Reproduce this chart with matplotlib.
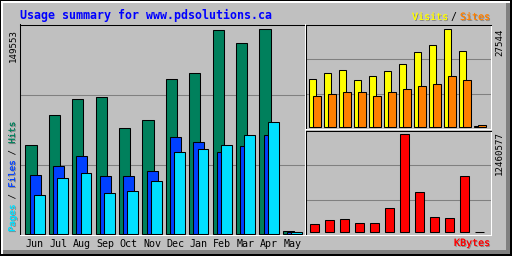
import matplotlib
matplotlib.use("Agg")
import matplotlib.pyplot as plt
import matplotlib.patheffects as pe
from matplotlib.patches import Rectangle
import numpy as np

MONTHS = ["Jun", "Jul", "Aug", "Sep", "Oct", "Nov",
          "Dec", "Jan", "Feb", "Mar", "Apr", "May"]

HITS = [64800, 86700, 98400, 99900, 77200, 83100,
        113000, 117400, 149200, 139300, 149553, 2500]
FILES = [42900, 49500, 56800, 42200, 42200, 45800,
         70900, 67000, 59700, 64100, 72300, 1500]
PAGES = [28300, 40700, 44300, 29700, 31200, 38500,
         59700, 61900, 64800, 72100, 81600, 1200]

VISITS = [13490, 15180, 16020, 13210, 14330, 15740,
          17710, 21080, 23050, 27544, 21360, 300]
SITES = [8710, 9280, 9840, 9840, 8710, 9840,
         10680, 11520, 12090, 14330, 13210, 560]

KBYTES = [1017000, 1526000, 1653000, 1144000, 1144000, 3052000,
          12460577, 5086000, 1907000, 1780000, 7120000, 100000]

TITLE = "Usage summary for www.pdsolutions.ca"

GREY = "#C0C0C0"
DARK = "#808080"
C_HITS = "#00805C"
C_FILES = "#0040FF"
C_PAGES = "#00E0FF"
C_VISITS = "#FFFF00"
C_SITES = "#FF8000"
C_KBYTES = "#FF0000"

W, H = 512, 256
MONO = "DejaVu Sans Mono"
LW = 0.75
ROT_FS = 6.6


def px_axes(fig, x0, y0, x1, y1):
    return fig.add_axes([x0 / W, 1 - y1 / H, (x1 - x0) / W, (y1 - y0) / H])


def style_panel(ax):
    ax.set_facecolor(GREY)
    ax.spines["top"].set_color("black")
    ax.spines["left"].set_color("black")
    ax.spines["bottom"].set_color("white")
    ax.spines["right"].set_color("white")
    for s in ax.spines.values():
        s.set_linewidth(LW)
    ax.set_yticks([])
    ax.tick_params(length=0)
    lo, hi = ax.get_ylim()
    for f in (1 / 3, 2 / 3):
        ax.axhline(lo + f * (hi - lo), color=DARK, lw=LW, zorder=0)


def shadow():
    return [pe.withSimplePatchShadow(offset=(0.7, -0.7),
                                     shadow_rgbFace=DARK, alpha=1),
            pe.Normal()]


fig = plt.figure(figsize=(W / 100, H / 100), dpi=100)
fig.patch.set_facecolor(GREY)

# background frame in pixel coordinates
bg = fig.add_axes([0, 0, 1, 1])
bg.set_xlim(0, W)
bg.set_ylim(H, 0)
bg.axis("off")
bg.add_patch(Rectangle((0, 0), W, H, facecolor="black", lw=0))
bg.add_patch(Rectangle((1, 1), W - 3, H - 3, facecolor="white", lw=0))
bg.add_patch(Rectangle((3, 3), W - 5, H - 5, facecolor=DARK, lw=0))
bg.add_patch(Rectangle((3, 3), W - 9, H - 9, facecolor=GREY, lw=0))

x = np.arange(len(MONTHS))

# left panel: hits / files / pages
ax = px_axes(fig, 20, 24.5, 304.5, 234.5)
hmax = max(HITS)
ax.set_ylim(-0.5 / 204.7 * hmax, 209.5 / 204.7 * hmax)
ax.set_xlim(-0.227, 11.93)
bw = 0.48
ax.bar(x, HITS, width=bw, align="edge", color=C_HITS,
       edgecolor="black", lw=LW, zorder=2)
ax.bar(x + 0.184, FILES, width=bw - 0.01, align="edge", color=C_FILES,
       edgecolor="black", lw=LW, zorder=3)
ax.bar(x + 0.36, PAGES, width=bw - 0.02, align="edge", color=C_PAGES,
       edgecolor="black", lw=LW, zorder=4)
style_panel(ax)
ax.set_xticks(x + 0.41, MONTHS, fontsize=7.2, family=MONO)
ax.tick_params(axis="x", pad=3)

# top right: visits / sites
ax2 = px_axes(fig, 306, 24.5, 490.5, 129)
vmax = max(VISITS)
ax2.set_ylim(-1.7 / 98 * vmax, 102.8 / 98 * vmax)
ax2.set_xlim(-0.22, 12.08)
ax2.bar(x, VISITS, width=0.467, align="edge", color=C_VISITS,
        edgecolor="black", lw=LW, zorder=2)
ax2.bar(x + 0.267, SITES, width=0.48, align="edge", color=C_SITES,
        edgecolor="black", lw=LW, zorder=3)
style_panel(ax2)
ax2.set_xticks([])

# bottom right: kbytes
ax3 = px_axes(fig, 306, 130.5, 490.5, 234.5)
kmax = max(KBYTES)
ax3.set_ylim(-2.2 / 98 * kmax, 101.8 / 98 * kmax)
ax3.set_xlim(-0.287, 12.01)
ax3.bar(x, KBYTES, width=0.6, align="edge", color=C_KBYTES,
        edgecolor="black", lw=LW, zorder=2)
style_panel(ax3)
ax3.set_xticks([])

# texts
bg.text(20, 15, TITLE, color="#0000FF", fontsize=8.4, family=MONO,
        weight="bold", ha="left", va="center")

bg.text(448, 17, "Visits", color=C_VISITS, fontsize=7.2, family=MONO,
        ha="right", va="center", path_effects=shadow())
bg.text(453.5, 17, "/", color="black", fontsize=7.2, family=MONO,
        ha="center", va="center")
bg.text(460, 17, "Sites", color=C_SITES, fontsize=7.2, family=MONO,
        ha="left", va="center", path_effects=shadow())

bg.text(490, 243, "KBytes", color=C_KBYTES, fontsize=7.2, family=MONO,
        ha="right", va="center", path_effects=shadow())

bg.text(13, 29, f"{hmax}", color="black", fontsize=ROT_FS, family=MONO,
        rotation=90, ha="center", va="top")
bg.text(499.5, 29, f"{vmax}", color="black", fontsize=ROT_FS, family=MONO,
        rotation=90, ha="center", va="top")
bg.text(499.5, 131, f"{kmax}", color="black", fontsize=ROT_FS, family=MONO,
        rotation=90, ha="center", va="top")

# rotated legend on the left: Pages / Files / Hits (bottom to top)
parts = [("Pages", C_PAGES), (" / ", "black"), ("Files", C_FILES),
         (" / ", "black"), ("Hits", C_HITS)]
char_h = 0.602 * ROT_FS * 100 / 72
ypos = 232
for label, col in parts:
    bg.text(12.5, ypos, label, color=col, fontsize=ROT_FS, family=MONO,
            rotation=90, ha="center", va="bottom",
            path_effects=shadow() if col != "black" else None)
    ypos -= char_h * len(label)

fig.savefig("out.png", dpi=100, facecolor=fig.get_facecolor())
